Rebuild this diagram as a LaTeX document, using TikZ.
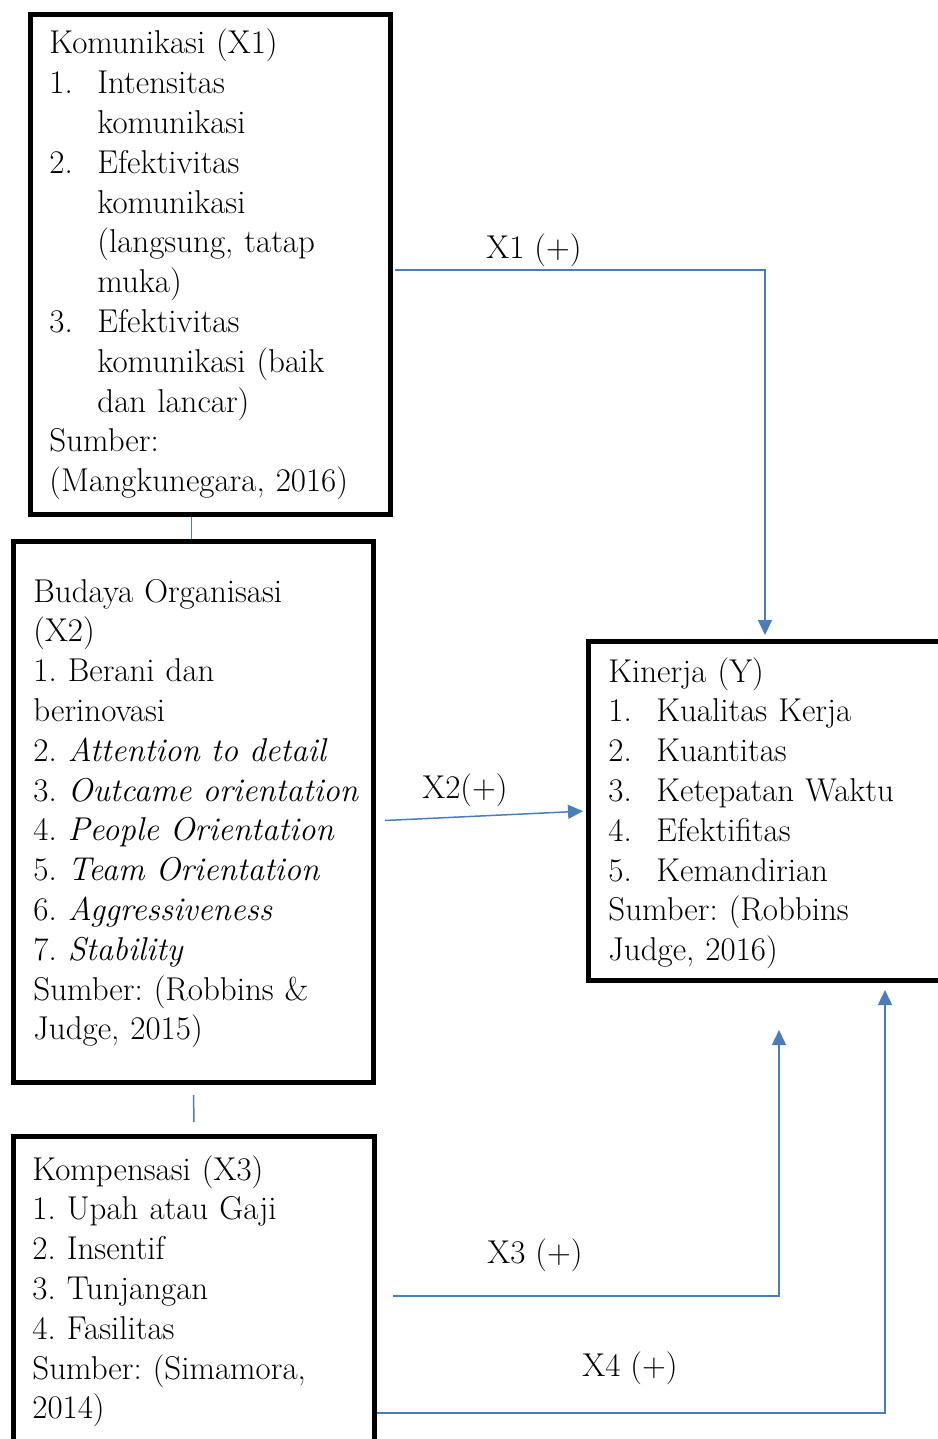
\documentclass[tikz,border=0pt]{standalone}
\usepackage{tikz}
\usetikzlibrary{arrows.meta, positioning}
\definecolor{linkblue}{RGB}{74,126,187}
\frenchspacing
\newcommand{\itm}[1]{\makebox[24pt][l]{#1}}
\newcommand{\ind}{\hspace*{24pt}}
\tikzset{
x=0.5pt, y=-0.5pt, % one unit is one pixel of the sketch
>={Triangle[width=7pt,length=7.5pt]}, % filled arrow heads
box/.style={draw, line width=2.5pt, inner sep=0pt, anchor=north west}, % the thick frames
txt/.style={anchor=base west, align=left, text width=178pt, inner sep=0pt, font=\fontsize{16.5}{19.9}\selectfont},
link/.style={draw=linkblue, line width=0.75pt}, % blue connectors
lbl/.style={inner sep=0pt, font=\fontsize{16.5}{19.9}\selectfont},
}
\begin{document}
\begin{tikzpicture}
\useasboundingbox (0,0) rectangle (937,1439);

% frames
\node[box, minimum width=180pt, minimum height=250pt] (kom) at (28,12) {};
\node[box, minimum width=180pt, minimum height=270.5pt] (bud) at (11,539) {};
\node[box, minimum width=180.5pt, minimum height=200pt] (komp) at (11,1134) {};
\node[box, minimum width=200pt, minimum height=169.5pt] (kin) at (586,639) {};

% texts
\node[txt] (komtxt) at (49,54) {Komunikasi (X1)\\
  \itm{1.}Intensitas\\ \ind komunikasi\\
  \itm{2.}Efektivitas\\ \ind komunikasi\\ \ind (langsung, tatap\\ \ind muka)\\
  \itm{3.}Efektivitas\\ \ind komunikasi (baik\\ \ind dan lancar)\\
  Sumber:\\ (Mangkunegara, 2016)};
\node[txt] (budtxt) at (33,602) {Budaya Organisasi\\ (X2)\\
  1. Berani dan\\ berinovasi\\
  2. \textit{Attention to detail}\\
  3. \textit{Outcame orientation}\\
  4. \textit{People Orientation}\\
  5. \textit{Team Orientation}\\
  6. \textit{Aggressiveness}\\
  7. \textit{Stability}\\
  Sumber: (Robbins \&\\ Judge, 2015)};
\node[txt] (komptxt) at (32,1180) {Kompensasi (X3)\\
  1. Upah atau Gaji\\
  2. Insentif\\
  3. Tunjangan\\
  4. Fasilitas\\
  Sumber: (Simamora,\\ 2014)};
\node[txt] (kintxt) at (608,682) {Kinerja (Y)\\
  \itm{1.}Kualitas Kerja\\
  \itm{2.}Kuantitas\\
  \itm{3.}Ketepatan Waktu\\
  \itm{4.}Efektifitas\\
  \itm{5.}Kemandirian\\
  Sumber: (Robbins\\ Judge, 2016)};

% connectors
\coordinate (x1turn) at (765,270);
\coordinate (x3turn) at (779,1296);
\coordinate (x3tip) at (779,1030);
\coordinate (x4turn) at (885,1413);
\coordinate (x4tip) at (885,990);

\draw[link] ([xshift=-9.5pt]kom.south) -- ([xshift=-9.5pt]kom.south |- bud.north);
\draw[link] ([yshift=-5pt]bud.south) -- ([yshift=6pt]komp.north);

\draw[link, ->, shorten >=2pt] ([xshift=1pt]kom.east |- x1turn) -- (x1turn) -- (x1turn |- kin.north);
\draw[link, ->, shorten >=1.5pt] ([shift={(9,8.5)}]bud.east) -- (kin.west);
\draw[link, ->] ([xshift=8pt]komp.east |- x3turn) -- (x3turn) -- (x3tip);
\draw[link, ->] (komp.east |- x4turn) -- (x4turn) -- (x4tip);

% labels
\node[lbl] (lx1) at (534,250) {X1 (+)};
\node[lbl] (lx2) at (465,790) {X2(+)};
\node[lbl] (lx3) at (535,1255) {X3 (+)};
\node[lbl] (lx4) at (630,1368) {X4 (+)};
\end{tikzpicture}
\end{document}
